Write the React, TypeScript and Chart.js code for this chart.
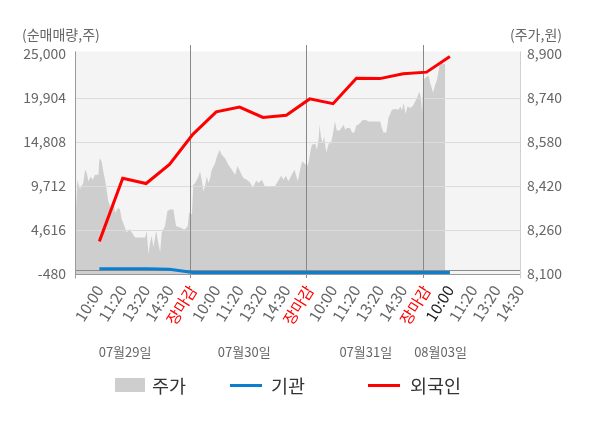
import React, { useEffect, useRef } from 'react';
import { Chart, registerables } from 'chart.js';

Chart.register(...registerables);

const FONT = '"Noto Sans CJK KR", "Noto Sans", sans-serif';

// x-axis labels (positions 1..19 on a 0..19 index scale)
const timeLabels = [
  '10:00', '11:20', '13:20', '14:30', '장마감',
  '10:00', '11:20', '13:20', '14:30', '장마감',
  '10:00', '11:20', '13:20', '14:30', '장마감',
  '10:00', '11:20', '13:20', '14:30',
];
const dateLabels = ['07월29일', '07월30일', '07월31일', '08월03일'];
const datePos = [2.1, 7.2, 12.4, 15.6];
const dayBreaks = [4.89, 9.84, 14.85];

// net buying (left axis)
const flowIdx = [1, 2, 3, 4, 5, 6, 7, 8, 9, 10, 11, 12, 13, 14, 15, 16];
const institution = [130, 130, 130, 80, -300, -300, -300, -300, -300, -300, -300, -300, -300, -300, -300, -300];
const foreigner = [3300, 10600, 10000, 12200, 15700, 18300, 18850, 17650, 17900, 19800, 19250, 22200, 22150, 22700, 22900, 24700];

// share price (right axis)
const priceIdx = [
  0.00, 0.06, 0.17, 0.31, 0.39, 0.46, 0.53, 0.63, 0.72, 0.81, 0.96, 1.00, 1.10, 1.17, 1.28, 1.38, 1.49, 1.60, 1.67, 1.81,
  1.88, 1.96, 2.07, 2.17, 2.28, 2.39, 2.53, 2.96, 3.03, 3.10, 3.17, 3.24, 3.31, 3.43, 3.52, 3.60, 3.67, 3.81, 3.91, 4.03,
  4.17, 4.28, 4.45, 4.60, 4.67, 4.78, 4.84, 4.96,
  5.02, 5.10, 5.17, 5.24, 5.31, 5.38, 5.45, 5.52, 5.60, 5.67, 5.74, 5.81, 5.95, 6.03, 6.14, 6.24, 6.38, 6.52, 6.67, 6.81,
  6.91, 7.02, 7.16, 7.31, 7.45, 7.57, 7.71, 7.81, 7.95, 8.09, 8.31, 8.49, 8.64, 8.78, 8.88, 8.98, 9.09, 9.21, 9.35, 9.49,
  9.59, 9.67, 9.77, 9.88, 9.95, 10.02, 10.09, 10.24, 10.31, 10.38, 10.42, 10.48, 10.55, 10.62, 10.71, 10.81, 10.91, 10.99,
  11.08, 11.16, 11.28, 11.38, 11.45, 11.52, 11.59, 11.73, 11.81, 11.91, 11.99, 12.13, 12.24, 12.38, 12.52, 12.73, 13.02,
  13.09, 13.16, 13.28, 13.37, 13.52, 13.66, 13.80, 13.88, 13.95, 14.02, 14.10, 14.19, 14.30, 14.42, 14.52, 14.62, 14.69,
  14.76, 14.81, 14.87, 14.99, 15.09, 15.16, 15.28, 15.37, 15.45, 15.56, 15.66, 15.76, 15.80,
];
const priceVals = [
  8335, 8443, 8409, 8431, 8479, 8467, 8437, 8455, 8443, 8461, 8461, 8521, 8509, 8473, 8425, 8365, 8341, 8371, 8323, 8341,
  8335, 8299, 8275, 8251, 8263, 8251, 8233, 8233, 8257, 8172, 8215, 8239, 8197, 8257, 8215, 8179, 8251, 8275, 8329, 8335,
  8335, 8275, 8269, 8263, 8263, 8275, 8323, 8317,
  8425, 8431, 8443, 8455, 8473, 8443, 8401, 8419, 8455, 8431, 8449, 8479, 8503, 8527, 8551, 8533, 8521, 8497, 8479, 8461,
  8493, 8473, 8449, 8443, 8433, 8413, 8440, 8431, 8443, 8416, 8416, 8416, 8437, 8457, 8443, 8457, 8437, 8457, 8479, 8437,
  8479, 8509, 8504, 8491, 8504, 8540, 8570, 8574, 8552, 8588, 8643, 8600, 8576, 8600, 8542, 8574, 8576, 8606,
  8655, 8622, 8622, 8634, 8643, 8625, 8631, 8631, 8615, 8615, 8639, 8646, 8658, 8661, 8655, 8655, 8655,
  8631, 8615, 8615, 8667, 8697, 8700, 8697, 8709, 8695, 8722, 8683, 8709, 8704, 8712, 8728, 8746, 8764,
  8740, 8688, 8806, 8816, 8821, 8794, 8760, 8788, 8806, 8861, 8865, 8865, 8865,
];

const volumeTicks = [-480, 4616, 9712, 14808, 19904, 25000];
const priceTicks = [8100, 8260, 8420, 8580, 8740, 8900];

const decor = {
  id: 'decor',
  beforeDraw(chart: any) {
    const { ctx, chartArea: a } = chart;
    ctx.save();
    ctx.fillStyle = '#f4f4f4';
    ctx.fillRect(a.left, a.top - 2.6, a.right - a.left, a.bottom - a.top + 2.6);
    ctx.restore();
  },
  afterDatasetDraw(chart: any, args: any) {
    if (args.index !== 0) return;
    const { ctx, chartArea: a, scales } = chart;
    const y = scales.y;
    const x = scales.x;
    ctx.save();
    ctx.lineWidth = 1;
    ctx.strokeStyle = '#dcdcdc';
    volumeTicks.slice(1, -1).forEach((v) => {
      const py = Math.round(y.getPixelForValue(v)) + 0.5;
      ctx.beginPath();
      ctx.moveTo(a.left, py);
      ctx.lineTo(a.right, py);
      ctx.stroke();
    });
    ctx.strokeStyle = '#888';
    dayBreaks.forEach((v) => {
      const px = Math.round(x.getPixelForValue(v)) + 0.5;
      ctx.beginPath();
      ctx.moveTo(px, a.top - 9);
      ctx.lineTo(px, a.bottom + 4);
      ctx.stroke();
    });
    const zy = Math.round(y.getPixelForValue(0)) + 0.5;
    ctx.strokeStyle = '#8a8a8a';
    ctx.beginPath();
    ctx.moveTo(a.left, zy);
    ctx.lineTo(a.right, zy);
    ctx.stroke();
    const lx = Math.round(a.left) - 0.5;
    const rx = Math.round(a.right) + 0.5;
    const by = Math.round(a.bottom) + 0.5;
    ctx.strokeStyle = '#999';
    ctx.beginPath();
    ctx.moveTo(lx, a.top - 2.6);
    ctx.lineTo(lx, by + 4);
    ctx.moveTo(lx, by);
    ctx.lineTo(rx, by);
    ctx.stroke();
    ctx.strokeStyle = '#d0d0d0';
    ctx.beginPath();
    ctx.moveTo(rx, a.top - 2.6);
    ctx.lineTo(rx, by + 4);
    ctx.stroke();
    ctx.restore();
  },
};

export default function App() {
  const ref = useRef<HTMLCanvasElement | null>(null);

  useEffect(() => {
    if (!ref.current) return;
    const chart = new Chart(ref.current, {
      type: 'line',
      data: {
        datasets: [
          {
            label: '주가',
            data: priceIdx.map((x, i) => ({ x, y: priceVals[i] })),
            xAxisID: 'x',
            yAxisID: 'y1',
            fill: 'start',
            backgroundColor: '#cecece',
            borderColor: '#cecece',
            borderWidth: 0,
            pointRadius: 0,
            tension: 0,
            order: 3,
          },
          {
            label: '기관',
            data: flowIdx.map((x, i) => ({ x, y: institution[i] })),
            xAxisID: 'x',
            yAxisID: 'y',
            borderColor: '#0a7fd0',
            borderWidth: 3,
            pointRadius: 0,
            fill: false,
            order: 2,
          },
          {
            label: '외국인',
            data: flowIdx.map((x, i) => ({ x, y: foreigner[i] })),
            xAxisID: 'x',
            yAxisID: 'y',
            borderColor: '#ff0000',
            borderWidth: 3,
            pointRadius: 0,
            fill: false,
            order: 1,
          },
        ],
      } as any,
      options: {
        animation: false,
        responsive: true,
        maintainAspectRatio: false,
        layout: { padding: { top: 54, left: 0, right: 0, bottom: 54 } },
        plugins: { legend: { display: false }, tooltip: { enabled: false } },
        scales: {
          x: {
            type: 'linear',
            position: 'bottom',
            min: 0,
            max: 19,
            weight: 0,
            afterBuildTicks: (s: any) => {
              s.ticks = timeLabels.map((_, i) => ({ value: i + 1 }));
            },
            afterFit: (s: any) => {
              s.height = 55;
            },
            grid: { display: false, drawTicks: false },
            border: { display: false },
            ticks: {
              autoSkip: false,
              minRotation: 58,
              maxRotation: 58,
              padding: 8,
              font: { family: FONT, size: 15.5 },
              color: (c: any) => {
                const t = timeLabels[c.index];
                if (t === '장마감') return '#ff0000';
                if (c.index === 15) return '#222';
                return '#666';
              },
              callback: (_v: any, i: number) => timeLabels[i],
            },
          },
          x2: {
            type: 'linear',
            position: 'bottom',
            min: 0,
            max: 19,
            weight: 1,
            afterBuildTicks: (s: any) => {
              s.ticks = datePos.map((v) => ({ value: v }));
            },
            afterFit: (s: any) => {
              s.height = 45;
            },
            grid: { display: false, drawTicks: false },
            border: { display: false },
            ticks: {
              autoSkip: false,
              minRotation: 0,
              maxRotation: 0,
              padding: 15,
              font: { family: FONT, size: 13 },
              color: '#666',
              callback: (_v: any, i: number) => dateLabels[i],
            },
          },
          y: {
            type: 'linear',
            position: 'left',
            min: -480,
            max: 25000,
            afterBuildTicks: (s: any) => {
              s.ticks = volumeTicks.map((v) => ({ value: v }));
            },
            afterFit: (s: any) => {
              s.width = 76;
            },
            grid: { display: false, drawTicks: false },
            border: { display: false },
            ticks: {
              padding: 10,
              font: { family: FONT, size: 14 },
              color: '#666',
              callback: (v: any) => Number(v).toLocaleString('en-US'),
            },
          },
          y1: {
            type: 'linear',
            position: 'right',
            min: 8100,
            max: 8900,
            afterBuildTicks: (s: any) => {
              s.ticks = priceTicks.map((v) => ({ value: v }));
            },
            afterFit: (s: any) => {
              s.width = 80;
            },
            grid: { display: false, drawTicks: false },
            border: { display: false },
            ticks: {
              padding: 7,
              font: { family: FONT, size: 14 },
              color: '#666',
              callback: (v: any) => Number(v).toLocaleString('en-US'),
            },
          },
        },
      } as any,
      plugins: [decor],
    });
    return () => chart.destroy();
  }, []);

  const txt: React.CSSProperties = { position: 'absolute', fontFamily: FONT, whiteSpace: 'nowrap' };

  return (
    <div style={{ position: 'absolute', left: 0, top: 0, width: 600, height: 428, background: '#fff' }}>
      <canvas ref={ref} style={{ position: 'absolute', left: 0, top: 0, width: 600, height: 428 }} />
      <div style={{ ...txt, left: 22, top: 25, fontSize: 14, lineHeight: '18px', color: '#666' }}>(순매매량,주)</div>
      <div style={{ ...txt, right: 38, top: 25, fontSize: 14, lineHeight: '18px', color: '#666', textAlign: 'right' }}>(주가,원)</div>
      <div style={{ position: 'absolute', left: 115, top: 378, width: 30, height: 14, background: '#cecece' }} />
      <div style={{ ...txt, left: 152, top: 373, fontSize: 18.5, lineHeight: '24px', color: '#333' }}>주가</div>
      <div style={{ position: 'absolute', left: 230, top: 384, width: 32, height: 3, background: '#0a7fd0' }} />
      <div style={{ ...txt, left: 271, top: 373, fontSize: 18.5, lineHeight: '24px', color: '#333' }}>기관</div>
      <div style={{ position: 'absolute', left: 368, top: 384, width: 32, height: 3, background: '#ff0000' }} />
      <div style={{ ...txt, left: 410, top: 373, fontSize: 18.5, lineHeight: '24px', color: '#333' }}>외국인</div>
    </div>
  );
}
